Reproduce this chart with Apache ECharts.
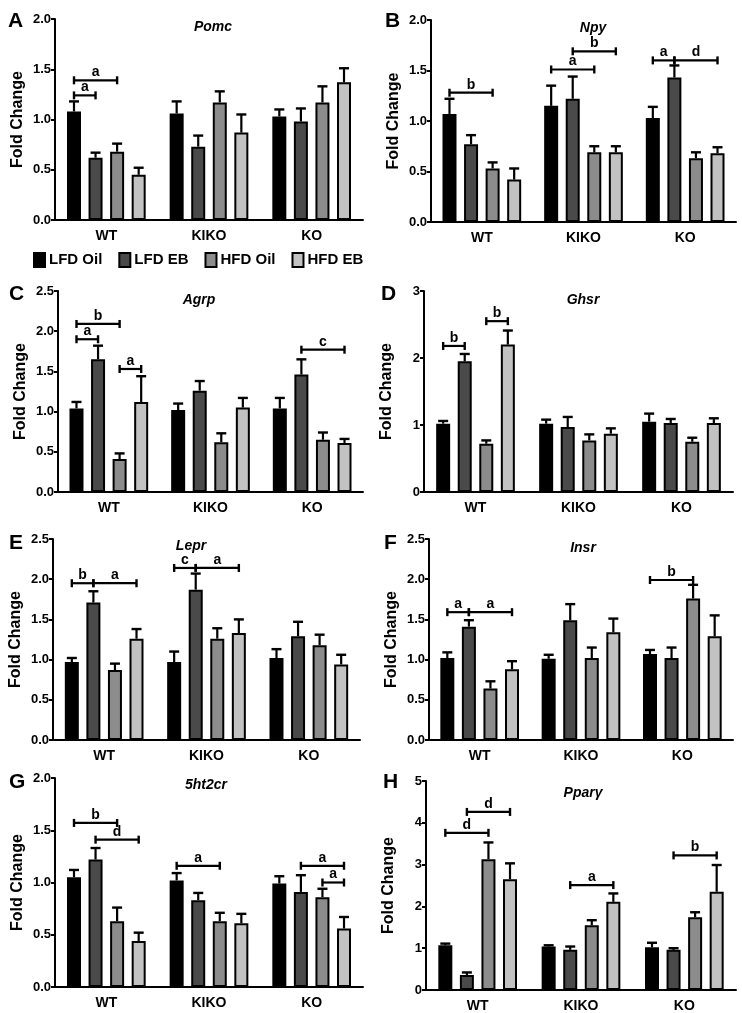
<!DOCTYPE html>
<html><head><meta charset="utf-8">
<script src="https://cdn.jsdelivr.net/npm/echarts@6/dist/echarts.min.js"></script>
<style>html,body{margin:0;padding:0;background:#fff}#c{width:742px;height:1013px}</style>
</head><body><div id="c"></div>
<script>
// ---------------- DATA ----------------
const groups = ['WT', 'KIKO', 'KO'];
const treatments = ['LFD Oil', 'LFD EB', 'HFD Oil', 'HFD EB'];

// Means: one array per treatment (LFD Oil, LFD EB, HFD Oil, HFD EB), values for WT, KIKO, KO
// SEM: same layout. Marks: [group, fromTreatment, toTreatment, height, letter]
const pomcMean = [[1.08, 1.06, 1.03], [0.62, 0.73, 0.98], [0.68, 1.17, 1.17], [0.45, 0.87, 1.37]];
const pomcSem  = [[0.10, 0.12, 0.07], [0.05, 0.11, 0.13], [0.08, 0.11, 0.16], [0.07, 0.18, 0.14]];
const pomcMarks = [[0, 0, 1, 1.24, 'a'], [0, 0, 2, 1.39, 'a']];

const npyMean = [[1.07, 1.15, 1.03], [0.77, 1.22, 1.43], [0.53, 0.69, 0.63], [0.42, 0.69, 0.68]];
const npySem  = [[0.15, 0.20, 0.11], [0.09, 0.22, 0.12], [0.06, 0.06, 0.06], [0.11, 0.06, 0.06]];
const npyMarks = [[0, 0, 2, 1.28, 'b'], [1, 0, 2, 1.51, 'a'], [1, 1, 3, 1.69, 'b'], [2, 0, 1, 1.60, 'a'], [2, 1, 3, 1.60, 'd']];

const agrpMean = [[1.04, 1.02, 1.04], [1.65, 1.26, 1.46], [0.41, 0.62, 0.65], [1.12, 1.05, 0.61]];
const agrpSem  = [[0.08, 0.08, 0.13], [0.17, 0.12, 0.19], [0.07, 0.11, 0.09], [0.32, 0.12, 0.05]];
const agrpMarks = [[0, 0, 1, 1.90, 'a'], [0, 0, 2, 2.09, 'b'], [0, 2, 3, 1.53, 'a'], [2, 1, 3, 1.77, 'c']];

const ghsrMean = [[1.02, 1.02, 1.05], [1.95, 0.97, 1.03], [0.72, 0.77, 0.75], [2.20, 0.87, 1.03]];
const ghsrSem  = [[0.04, 0.06, 0.12], [0.11, 0.15, 0.06], [0.05, 0.09, 0.06], [0.21, 0.08, 0.07]];
const ghsrMarks = [[0, 0, 1, 2.18, 'b'], [0, 2, 3, 2.55, 'b']];

const leprMean = [[0.97, 0.97, 1.02], [1.71, 1.87, 1.29], [0.87, 1.26, 1.18], [1.26, 1.33, 0.94]];
const leprSem  = [[0.05, 0.13, 0.11], [0.14, 0.20, 0.18], [0.08, 0.13, 0.13], [0.12, 0.17, 0.12]];
const leprMarks = [[0, 0, 1, 1.95, 'b'], [0, 1, 3, 1.95, 'a'], [1, 0, 1, 2.14, 'c'], [1, 1, 3, 2.14, 'a']];

const insrMean = [[1.02, 1.01, 1.07], [1.41, 1.49, 1.02], [0.64, 1.02, 1.76], [0.88, 1.34, 1.29]];
const insrSem  = [[0.07, 0.05, 0.05], [0.08, 0.20, 0.13], [0.09, 0.13, 0.17], [0.10, 0.17, 0.26]];
const insrMarks = [[0, 0, 1, 1.59, 'a'], [0, 1, 3, 1.59, 'a'], [2, 0, 2, 1.99, 'b']];

const htrMean = [[1.05, 1.02, 0.99], [1.22, 0.83, 0.91], [0.63, 0.63, 0.86], [0.44, 0.61, 0.56]];
const htrSem  = [[0.07, 0.07, 0.07], [0.11, 0.07, 0.16], [0.13, 0.08, 0.08], [0.08, 0.09, 0.11]];
const htrMarks = [[0, 0, 2, 1.57, 'b'], [0, 1, 3, 1.41, 'd'], [1, 0, 2, 1.16, 'a'], [2, 1, 3, 1.16, 'a'], [2, 2, 3, 1.00, 'a']];

const ppargMean = [[1.07, 1.04, 1.02], [0.36, 0.96, 0.96], [3.13, 1.55, 1.74], [2.65, 2.11, 2.35]];
const ppargSem  = [[0.04, 0.03, 0.11], [0.06, 0.08, 0.04], [0.40, 0.12, 0.12], [0.38, 0.20, 0.64]];
const ppargMarks = [[0, 0, 2, 3.76, 'd'], [0, 1, 3, 4.26, 'd'], [1, 1, 3, 2.51, 'a'], [2, 1, 3, 3.22, 'b']];

// ---------------- STYLE / LAYOUT ----------------
const FONT = '"Liberation Sans", Arial, Helvetica, sans-serif';
const barColors = ['#000000', '#4a4a4a', '#8c8c8c', '#c2c2c2'];
const BAR_W = 14;
const GAP_RATIO = 0.54;

const panels = [
  {letter: 'A', gene: 'Pomc', mean: pomcMean, sem: pomcSem, marks: pomcMarks, max: 2, step: 0.5, dec: 1,
   grid: {left: 55, top: 19, width: 308, height: 201}, lp: [3, 6], gp: [208, 15]},
  {letter: 'B', gene: 'Npy', mean: npyMean, sem: npySem, marks: npyMarks, max: 2, step: 0.5, dec: 1,
   grid: {left: 431, top: 20, width: 305, height: 202}, lp: [380, 6], gp: [588, 16]},
  {letter: 'C', gene: 'Agrp', mean: agrpMean, sem: agrpSem, marks: agrpMarks, max: 2.5, step: 0.5, dec: 1,
   grid: {left: 58, top: 291, width: 305, height: 201}, lp: [4, 279], gp: [194, 288]},
  {letter: 'D', gene: 'Ghsr', mean: ghsrMean, sem: ghsrSem, marks: ghsrMarks, max: 3, step: 1, dec: 0,
   grid: {left: 424, top: 291, width: 309, height: 201}, lp: [376, 279], gp: [578, 288]},
  {letter: 'E', gene: 'Lepr', mean: leprMean, sem: leprSem, marks: leprMarks, max: 2.5, step: 0.5, dec: 1,
   grid: {left: 53, top: 539, width: 307, height: 201}, lp: [4, 528], gp: [186, 534]},
  {letter: 'F', gene: 'Insr', mean: insrMean, sem: insrSem, marks: insrMarks, max: 2.5, step: 0.5, dec: 1,
   grid: {left: 429, top: 539, width: 304, height: 201}, lp: [379, 528], gp: [578, 536]},
  {letter: 'G', gene: '5ht2cr', mean: htrMean, sem: htrSem, marks: htrMarks, max: 2, step: 0.5, dec: 1,
   grid: {left: 55, top: 778, width: 308, height: 209}, lp: [4, 767], gp: [201, 773]},
  {letter: 'H', gene: 'Ppar\u03b3', mean: ppargMean, sem: ppargSem, marks: ppargMarks, max: 5, step: 1, dec: 0,
   grid: {left: 426, top: 781, width: 310, height: 209}, lp: [378, 767], gp: [578, 781]}
];

function barOffset(i) {
  const gap = BAR_W * GAP_RATIO;
  const total = 4 * BAR_W + 3 * gap;
  return -total / 2 + BAR_W / 2 + i * (BAR_W + gap);
}

const option = {
  animation: false,
  backgroundColor: '#fff',
  title: [],
  legend: {
    data: treatments, left: 28, top: 247, icon: 'rect', itemWidth: 11, itemHeight: 14, itemGap: 16,
    textStyle: {fontFamily: FONT, fontWeight: 'bold', fontSize: 15, color: '#000', padding: [0, 0, 0, -1]},
    selectedMode: false
  },
  grid: [], xAxis: [], yAxis: [], series: []
};

panels.forEach((p, pi) => {
  option.grid.push(p.grid);
  option.title.push({text: p.letter, left: p.lp[0], top: p.lp[1],
    textStyle: {fontFamily: FONT, fontWeight: 'bold', fontSize: 21, color: '#000'}});
  option.title.push({text: p.gene, left: p.gp[0], top: p.gp[1], textAlign: 'center',
    textStyle: {fontFamily: FONT, fontWeight: 'bold', fontStyle: 'italic', fontSize: 14, color: '#000'}});
  option.xAxis.push({
    type: 'category', gridIndex: pi, data: groups,
    axisLine: {lineStyle: {color: '#000', width: 2}},
    axisTick: {alignWithLabel: true, length: 4, lineStyle: {color: '#000', width: 2}},
    axisLabel: {fontFamily: FONT, fontWeight: 'bold', fontSize: 14, color: '#000', margin: 9}
  });
  option.yAxis.push({
    type: 'value', gridIndex: pi, min: 0, max: p.max, interval: p.step,
    name: 'Fold Change', nameLocation: 'middle', nameGap: 29,
    nameTextStyle: {fontFamily: FONT, fontWeight: 'bold', fontSize: 16, color: '#000'},
    axisLine: {show: true, lineStyle: {color: '#000', width: 2}},
    axisTick: {show: true, length: 4, lineStyle: {color: '#000', width: 2}},
    splitLine: {show: false},
    axisLabel: {fontFamily: FONT, fontWeight: 'bold', fontSize: 13, color: '#000', margin: 4,
      formatter: v => v.toFixed(p.dec)}
  });
  treatments.forEach((t, ti) => {
    option.series.push({
      type: 'bar', name: t, xAxisIndex: pi, yAxisIndex: pi,
      barWidth: BAR_W, barGap: (GAP_RATIO * 100) + '%',
      itemStyle: {color: barColors[ti], borderColor: '#000', borderWidth: 2},
      data: p.mean[ti], z: 2
    });
  });
  // error bars
  const errData = [];
  treatments.forEach((t, ti) => {
    groups.forEach((g, gi) => errData.push([gi, p.mean[ti][gi], p.sem[ti][gi], ti]));
  });
  option.series.push({
    type: 'custom', xAxisIndex: pi, yAxisIndex: pi, z: 3, silent: true,
    encode: {x: 0, y: 1},
    data: errData,
    renderItem: (params, api) => {
      const gi = api.value(0), m = api.value(1), s = api.value(2), ti = api.value(3);
      const b = api.coord([gi, m]);
      const t = api.coord([gi, m + s]);
      const x = b[0] + barOffset(ti);
      return {type: 'group', children: [
        {type: 'line', shape: {x1: x, y1: b[1], x2: x, y2: t[1]}, style: {stroke: '#000', lineWidth: 2.2}},
        {type: 'line', shape: {x1: x - 5, y1: t[1], x2: x + 5, y2: t[1]}, style: {stroke: '#000', lineWidth: 2.4}}
      ]};
    }
  });
  // significance brackets
  const marks = p.marks;
  option.series.push({
    type: 'custom', xAxisIndex: pi, yAxisIndex: pi, z: 4, silent: true,
    encode: {x: 0, y: 1},
    data: marks.map(m => [m[0], m[3]]),
    renderItem: (params, api) => {
      const m = marks[params.dataIndex];
      const c = api.coord([m[0], m[3]]);
      const x1 = c[0] + barOffset(m[1]);
      const x2 = c[0] + barOffset(m[2]);
      const y = c[1];
      return {type: 'group', children: [
        {type: 'line', shape: {x1: x1, y1: y, x2: x2, y2: y}, style: {stroke: '#000', lineWidth: 2.2}},
        {type: 'line', shape: {x1: x1, y1: y - 4, x2: x1, y2: y + 4}, style: {stroke: '#000', lineWidth: 2.4}},
        {type: 'line', shape: {x1: x2, y1: y - 4, x2: x2, y2: y + 4}, style: {stroke: '#000', lineWidth: 2.4}},
        {type: 'text', style: {text: m[4], x: (x1 + x2) / 2, y: y - 1, align: 'center', verticalAlign: 'bottom',
          font: 'bold 14px ' + FONT, fill: '#000'}}
      ]};
    }
  });
});

const chart = echarts.init(document.getElementById('c'), null, {renderer: 'canvas'});
chart.setOption(option);
</script>
</body></html>
